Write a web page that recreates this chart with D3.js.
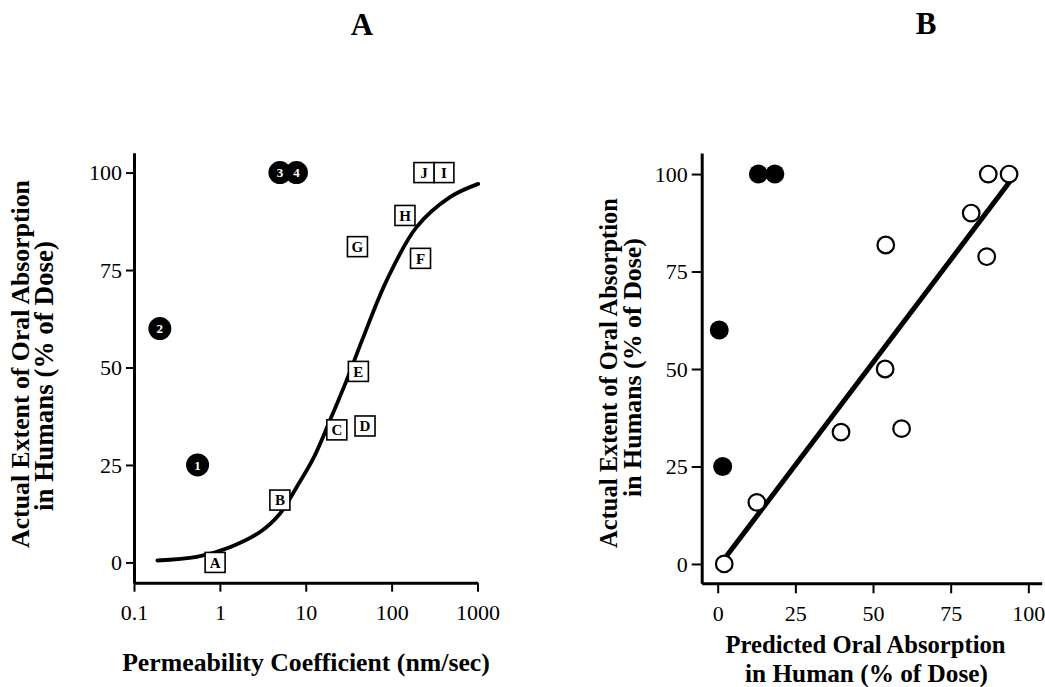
<!DOCTYPE html>
<html>
<head>
<meta charset="utf-8">
<script src="https://cdn.jsdelivr.net/npm/d3@7"></script>
<style>
  html, body { margin: 0; padding: 0; background: #fff; }
  svg { display: block; }
  text { font-family: "Liberation Serif", "Times New Roman", serif; fill: #000; }
</style>
</head>
<body>
<svg id="chart" width="1045" height="687"></svg>
<script>
// ---------- DATA ----------
// Panel A: permeability (nm/sec, log) vs actual absorption (%)
const aXTickValues = [0.1, 1, 10, 100, 1000];
const aXTickLabels = ["0.1", "1", "10", "100", "1000"];
const yTickValues = [0, 25, 50, 75, 100];
const yTickLabels = ["0", "25", "50", "75", "100"];

const circleLabels = ["1", "2", "3", "4"];
const circlePerm   = [0.55, 0.2, 5.0, 7.8];
const circleAbs    = [25, 60, 100, 100];

const squareLabels = ["A", "B", "C", "D", "E", "F", "G", "H", "I", "J"];
const squarePerm   = [0.88, 5.0, 23, 49, 41, 217, 40, 143, 406, 238];
const squareAbs    = [0, 16, 34, 35, 49, 78, 81, 89, 100, 100];

const curvePerm = [0.187, 0.537, 1.31, 2.93, 5.0, 7.83, 12.2, 19.1, 29.9, 46.8, 87.4, 195, 478, 1020];
const curveAbs  = [0.5, 1.4, 3.9, 7.8, 12.5, 19.3, 26.6, 36.4, 46.7, 57.8, 72.3, 86, 93.7, 97.1];

// Panel B: predicted vs actual absorption (%)
const bXTickValues = [0, 25, 50, 75, 100];
const bXTickLabels = ["0", "25", "50", "75", "100"];

const filledPred   = [13.1, 18.4, 0.5, 1.6];
const filledActual = [100, 100, 60, 25];

const openPred   = [2.1, 12.6, 39.7, 59.2, 53.9, 54.1, 86.6, 81.6, 87.1, 93.8];
const openActual = [0, 15.8, 33.8, 34.7, 50, 81.8, 78.8, 90, 100, 100];

const fitPred   = [2.9, 94.0];
const fitActual = [2.1, 98.0];

// ---------- DRAWING ----------
const svg = d3.select("#chart");

function fitWidth(sel, target) {
  const base = parseFloat(sel.attr("font-size"));
  const w = sel.node().getComputedTextLength();
  sel.attr("font-size", (base * target / w).toFixed(2));
}

function styleAxis(g, domainW, tickW) {
  g.select(".domain").attr("stroke", "#000").attr("stroke-width", domainW);
  g.selectAll(".tick line").attr("stroke", "#000").attr("stroke-width", tickW);
  g.selectAll(".tick text")
    .attr("font-family", "'Liberation Serif', 'Times New Roman', serif")
    .attr("font-size", 22).attr("fill", "#000");
}

// ---- Panel A ----
const xA = d3.scaleLog().domain([0.1, 1000]).range([134, 477.5]);
const yA = d3.scaleLinear().domain([-5.2, 105.1]).range([582.7, 152.7]);

const gAx = svg.append("g").attr("transform", `translate(0,${yA.range()[0]})`)
  .call(d3.axisBottom(xA).tickValues(aXTickValues)
    .tickFormat((d, i) => aXTickLabels[i]).tickSize(9).tickSizeOuter(0));
styleAxis(gAx, 3, 2);
gAx.selectAll(".tick text").attr("dy", 0).attr("y", 37);

const gAy = svg.append("g").attr("transform", `translate(${xA.range()[0]},0)`)
  .call(d3.axisLeft(yA).tickValues(yTickValues)
    .tickFormat((d, i) => yTickLabels[i]).tickSize(8).tickSizeOuter(0).tickPadding(4));
styleAxis(gAy, 3, 2);

// curve
const lineA = d3.line().x((d, i) => xA(curvePerm[i])).y((d, i) => yA(curveAbs[i])).curve(d3.curveCatmullRom.alpha(0.5));
svg.append("path").datum(curvePerm).attr("d", lineA)
  .attr("fill", "none").attr("stroke", "#000").attr("stroke-width", 3.8).attr("stroke-linecap", "round");

// circles
const cA = svg.append("g").selectAll("g").data(circleLabels).join("g")
  .attr("transform", (d, i) => `translate(${xA(circlePerm[i])},${yA(circleAbs[i])})`);
cA.append("circle").attr("r", 11.5).attr("fill", "#000");
cA.append("text").text(d => d).attr("text-anchor", "middle").attr("dy", "0.35em")
  .attr("font-size", 13).attr("font-weight", "bold").style("fill", "#fff");

// squares
const sA = svg.append("g").selectAll("g").data(squareLabels).join("g")
  .attr("transform", (d, i) => `translate(${xA(squarePerm[i])},${yA(squareAbs[i])})`);
sA.append("rect").attr("x", -10).attr("y", -10).attr("width", 20).attr("height", 20)
  .attr("fill", "#fff").attr("stroke", "#000").attr("stroke-width", 1.6);
sA.append("text").text(d => d).attr("text-anchor", "middle").attr("dy", "0.36em")
  .attr("font-size", 15).attr("font-weight", "bold");

// titles A
svg.append("text").text("A").attr("x", 362).attr("y", 35).attr("text-anchor", "middle")
  .attr("font-size", 31).attr("font-weight", "bold");

const tAx = svg.append("text").text("Permeability Coefficient (nm/sec)")
  .attr("x", 306).attr("y", 670.5).attr("text-anchor", "middle")
  .attr("font-size", 20).attr("font-weight", "bold");
fitWidth(tAx, 368);

const tAy1 = svg.append("text").text("Actual Extent of Oral Absorption")
  .attr("transform", "translate(29,364) rotate(-90)").attr("text-anchor", "middle")
  .attr("font-size", 20).attr("font-weight", "bold");
fitWidth(tAy1, 368);
const tAy2 = svg.append("text").text("in Humans (% of Dose)")
  .attr("transform", "translate(53,376) rotate(-90)").attr("text-anchor", "middle")
  .attr("font-size", 20).attr("font-weight", "bold");
fitWidth(tAy2, 270);

// ---- Panel B ----
const xB = d3.scaleLinear().domain([-5.15, 104.3]).range([701.7, 1041.7]);
const yB = d3.scaleLinear().domain([-4.96, 105.4]).range([583.3, 153]);

const gBx = svg.append("g").attr("transform", `translate(0,${yB.range()[0]})`)
  .call(d3.axisBottom(xB).tickValues(bXTickValues)
    .tickFormat((d, i) => bXTickLabels[i]).tickSize(10).tickSizeOuter(0));
styleAxis(gBx, 3, 2);
gBx.selectAll(".tick text").attr("dy", 0).attr("y", 38);

const gBy = svg.append("g").attr("transform", `translate(${xB.range()[0]},0)`)
  .call(d3.axisLeft(yB).tickValues(yTickValues)
    .tickFormat((d, i) => yTickLabels[i]).tickSize(10).tickSizeOuter(0).tickPadding(4));
styleAxis(gBy, 3, 2);

// regression line
const lineB = d3.line().x((d, i) => xB(fitPred[i])).y((d, i) => yB(fitActual[i]));
svg.append("path").datum(fitPred).attr("d", lineB)
  .attr("fill", "none").attr("stroke", "#000").attr("stroke-width", 5);

// filled circles
svg.append("g").selectAll("circle").data(filledPred).join("circle")
  .attr("cx", d => xB(d)).attr("cy", (d, i) => yB(filledActual[i]))
  .attr("r", 9.5).attr("fill", "#000");

// open circles
svg.append("g").selectAll("circle").data(openPred).join("circle")
  .attr("cx", d => xB(d)).attr("cy", (d, i) => yB(openActual[i]))
  .attr("r", 8.3).attr("fill", "#fff").attr("stroke", "#000").attr("stroke-width", 2.2);

// titles B
svg.append("text").text("B").attr("x", 926).attr("y", 34).attr("text-anchor", "middle")
  .attr("font-size", 31).attr("font-weight", "bold");

const tBx1 = svg.append("text").text("Predicted Oral Absorption")
  .attr("x", 865.5).attr("y", 653).attr("text-anchor", "middle")
  .attr("font-size", 20).attr("font-weight", "bold");
fitWidth(tBx1, 280);
const tBx2 = svg.append("text").text("in Human (% of Dose)")
  .attr("x", 866.5).attr("y", 682).attr("text-anchor", "middle")
  .attr("font-size", 20).attr("font-weight", "bold");
fitWidth(tBx2, 243);

const tBy1 = svg.append("text").text("Actual Extent of Oral Absorption")
  .attr("transform", "translate(617,373) rotate(-90)").attr("text-anchor", "middle")
  .attr("font-size", 20).attr("font-weight", "bold");
fitWidth(tBy1, 350);
const tBy2 = svg.append("text").text("in Humans (% of Dose)")
  .attr("transform", "translate(641,367.5) rotate(-90)").attr("text-anchor", "middle")
  .attr("font-size", 20).attr("font-weight", "bold");
fitWidth(tBy2, 259);
</script>
</body>
</html>
